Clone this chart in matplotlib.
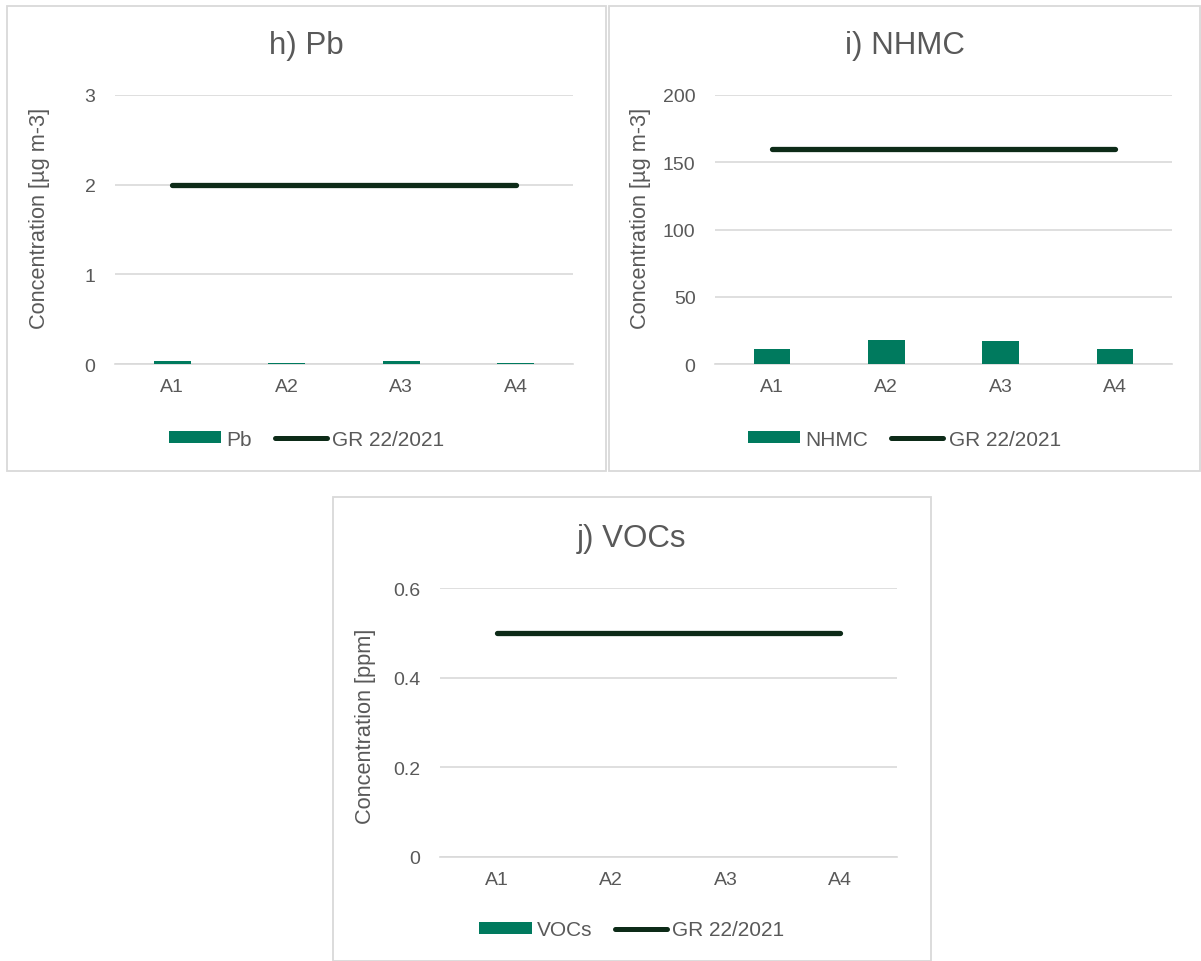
import matplotlib
matplotlib.use("Agg")
import matplotlib.pyplot as plt
from matplotlib.patches import Rectangle, Patch
from matplotlib.lines import Line2D

plt.rcParams['font.family'] = ['Liberation Sans', 'DejaVu Sans']

categories = ["A1", "A2", "A3", "A4"]
pb_values = [0.035, 0.015, 0.035, 0.015]
pb_limit = [2, 2, 2, 2]
nhmc_values = [11, 18, 17, 11]
nhmc_limit = [160, 160, 160, 160]
voc_values = [0, 0, 0, 0]
voc_limit = [0.5, 0.5, 0.5, 0.5]

W, H = 1201, 962
fig = plt.figure(figsize=(W / 100, H / 100), dpi=100)

BAR = "#007A5E"
LINE = "#0D2B18"
TXT = "#595959"
GRID = "#D9D9D9"
FS = 14
LFS = 15


def px_axes(l, t, r, b):
    return fig.add_axes([l / W, 1 - b / H, (r - l) / W, (b - t) / H])


def box(l, t, r, b):
    fig.patches.append(Rectangle((l / W, 1 - b / H), (r - l) / W, (b - t) / H,
                                 transform=fig.transFigure, fill=False,
                                 edgecolor="#D9D9D9", linewidth=1.3))


def panel(rect, boxrect, title, title_y, legend_y, label_y, vals, lim, ymax, step,
          ylabel, name, fmt):
    box(*boxrect)
    ax = px_axes(*rect)
    x = list(range(len(categories)))
    ax.bar(x, vals, width=0.32, color=BAR, zorder=3)
    ax.plot(x, lim, color=LINE, linewidth=3.8, solid_capstyle='round', zorder=4)
    ax.set_xlim(-0.5, len(categories) - 0.5)
    ax.set_ylim(0, ymax)
    ticks = [i * step for i in range(int(round(ymax / step)) + 1)]
    ax.set_yticks(ticks)
    ax.set_yticklabels([fmt(t) for t in ticks])
    ax.set_xticks(x)
    ax.set_xticklabels(categories)
    ax.grid(axis='y', color=GRID, linewidth=1.2, zorder=0)
    ax.set_axisbelow(True)
    for s in ['top', 'right', 'left']:
        ax.spines[s].set_visible(False)
    ax.spines['bottom'].set_color(GRID)
    ax.spines['bottom'].set_linewidth(1.2)
    ax.tick_params(axis='both', length=0, colors=TXT, labelsize=FS)
    ax.tick_params(axis='y', pad=14)
    ax.tick_params(axis='x', pad=10)
    ax.set_ylabel(ylabel, color=TXT, fontsize=15.7)
    ax.yaxis.set_label_coords((40 - 115) / 458, label_y)
    ax.yaxis.label.set_verticalalignment('center')
    l, t, r, b = boxrect
    fig.text(((l + r) / 2) / W, 1 - title_y / H, title, ha='center', va='center',
             color=TXT, fontsize=22.5)
    handles = [Patch(facecolor=BAR, edgecolor='none'),
               Line2D([0], [0], color=LINE, linewidth=3.6, solid_capstyle='round')]
    ax.legend(handles, [name, "GR 22/2021"], loc='center',
              bbox_to_anchor=(((l + r) / 2 - rect[0]) / (rect[2] - rect[0]),
                              -(legend_y - rect[3]) / (rect[3] - rect[1])),
              ncol=2, frameon=False, fontsize=LFS, labelcolor=TXT,
              handlelength=2.5, handleheight=0.56, columnspacing=1.1,
              handletextpad=0.25)
    return ax


def fmt_int(v):
    return str(int(round(v)))


def fmt_dec(v):
    return "0" if v == 0 else ("%g" % v)


panel((115, 96, 573, 365), (7, 7, 606, 472), "h) Pb", 46, 440, 0.546,
      pb_values, pb_limit, 3, 1, "Concentration [µg m-3]", "Pb", fmt_int)
panel((715, 96, 1172, 365), (609, 7, 1200, 472), "i) NHMC", 46, 440, 0.546,
      nhmc_values, nhmc_limit, 200, 50, "Concentration [µg m-3]", "NHMC", fmt_int)
panel((440, 589, 897, 858), (333, 498, 931, 962), "j) VOCs", 539, 931, 0.49,
      voc_values, voc_limit, 0.6, 0.2, "Concentration [ppm]", "VOCs", fmt_dec)

fig.savefig("out.png", dpi=100, facecolor="white")
